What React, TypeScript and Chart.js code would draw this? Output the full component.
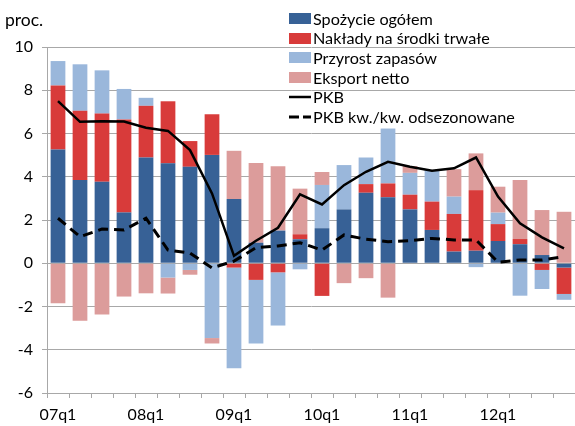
import React, { useEffect, useRef } from 'react';
import { Chart, registerables } from 'chart.js';

Chart.register(...registerables);

const categories = [
  '07q1', '07q2', '07q3', '07q4', '08q1', '08q2', '08q3', '08q4',
  '09q1', '09q2', '09q3', '09q4', '10q1', '10q2', '10q3', '10q4',
  '11q1', '11q2', '11q3', '11q4', '12q1', '12q2', '12q3', '12q4',
];
const xTickLabels = categories.map((c) => (c.endsWith('q1') ? c : ''));

const spozycie = [5.26, 3.85, 3.77, 2.35, 4.89, 4.62, 4.46, 5.01, 2.97, 0.95, 1.51, 1.11, 1.62, 2.49, 3.26, 3.05, 2.49, 1.54, 0.54, 0.58, 1.03, 0.88, 0.38, -0.2];
const naklady = [2.96, 3.2, 3.15, 4.3, 2.39, 2.87, 1.19, 1.88, -0.2, -0.77, -0.42, 0.23, -1.51, 0, 0.4, 0.64, 0.68, 1.31, 1.74, 2.8, 0.78, 0.24, -0.31, -1.22];
const zapasy = [1.13, 2.15, 2.0, 1.41, 0.37, -0.66, -0.31, -3.46, -4.65, -2.94, -2.46, -0.28, 2.0, 2.05, 1.23, 2.54, 1.01, 1.46, 0.8, -0.18, 0.53, -1.5, -0.88, -0.27];
const eksport = [-1.85, -2.66, -2.37, -1.54, -1.39, -0.74, -0.22, -0.25, 2.23, 3.69, 2.98, 2.11, 0.6, -0.92, -0.69, -1.59, 0.31, 0, 1.27, 1.7, 1.2, 2.73, 2.08, 2.38];
const pkb = [7.5, 6.54, 6.57, 6.55, 6.27, 6.12, 5.23, 3.23, 0.34, 1.04, 1.64, 3.19, 2.72, 3.61, 4.23, 4.69, 4.46, 4.28, 4.39, 4.89, 3.08, 1.85, 1.2, 0.69];
const pkbKwKw = [2.08, 1.23, 1.58, 1.54, 2.08, 0.61, 0.47, -0.22, 0.1, 0.72, 0.8, 0.95, 0.61, 1.31, 1.11, 1.0, 1.04, 1.15, 1.08, 1.08, 0.05, 0.15, 0.15, 0.31];

const yMin = -6;
const yMax = 10;
const yStep = 2;

const C_DARK = '#376196';
const C_RED = '#d83b3a';
const C_LIGHT = '#9ab7db';
const C_PINK = '#dc9c9b';
const GRID = '#a8a8a8';
const FONT = 'Lato, "Open Sans", sans-serif';

const legendItems = [
  { label: 'Spożycie ogółem', kind: 'box', color: C_DARK },
  { label: 'Nakłady na środki trwałe', kind: 'box', color: C_RED },
  { label: 'Przyrost zapasów', kind: 'box', color: C_LIGHT },
  { label: 'Eksport netto', kind: 'box', color: C_PINK },
  { label: 'PKB', kind: 'line', color: '#000' },
  { label: 'PKB kw./kw. odsezonowane', kind: 'dash', color: '#000' },
];

export default function App() {
  const ref = useRef<HTMLCanvasElement>(null);

  useEffect(() => {
    document.body.style.margin = '0';
    const canvas = ref.current;
    if (!canvas) return;
    const barCommon = {
      stack: 'bars',
      order: 1,
      barPercentage: 0.67,
      categoryPercentage: 1.0,
      borderWidth: 0,
    };
    const chart = new Chart(canvas, {
      type: 'bar',
      data: {
        labels: categories,
        datasets: [
          {
            type: 'line',
            label: 'PKB',
            data: pkb,
            borderColor: '#000',
            borderWidth: 2.5,
            pointRadius: 0,
            fill: false,
            tension: 0,
            stack: 'line1',
            order: 0,
          } as any,
          {
            type: 'line',
            label: 'PKB kw./kw. odsezonowane',
            data: pkbKwKw,
            borderColor: '#000',
            borderWidth: 3,
            borderDash: [10, 6],
            pointRadius: 0,
            fill: false,
            tension: 0,
            stack: 'line2',
            order: 0,
          } as any,
          { ...barCommon, label: 'Spożycie ogółem', data: spozycie, backgroundColor: C_DARK } as any,
          { ...barCommon, label: 'Nakłady na środki trwałe', data: naklady, backgroundColor: C_RED } as any,
          { ...barCommon, label: 'Przyrost zapasów', data: zapasy, backgroundColor: C_LIGHT } as any,
          { ...barCommon, label: 'Eksport netto', data: eksport, backgroundColor: C_PINK } as any,
        ],
      },
      options: {
        responsive: false,
        animation: false,
        layout: { padding: { top: 47, right: 0, left: 0, bottom: 0 } },
        plugins: {
          legend: { display: false },
          tooltip: { enabled: false },
        },
        scales: {
          x: {
            stacked: true,
            offset: true,
            grid: {
              offset: true,
              drawOnChartArea: false,
              drawTicks: true,
              tickLength: 5,
              color: GRID,
            },
            border: { display: true, color: GRID, width: 1 },
            ticks: {
              autoSkip: false,
              maxRotation: 0,
              minRotation: 0,
              padding: 7,
              color: '#000',
              font: { family: FONT, size: 16 },
              callback: (_v: any, i: number) => xTickLabels[i],
            },
            afterFit: (s: any) => {
              s.height = 33;
            },
          },
          y: {
            stacked: true,
            min: yMin,
            max: yMax,
            ticks: {
              stepSize: yStep,
              padding: 9,
              color: '#000',
              font: { family: FONT, size: 16 },
            },
            grid: {
              color: GRID,
              tickLength: 5,
              drawTicks: true,
            },
            border: { display: true, color: GRID, width: 1 },
            afterFit: (s: any) => {
              s.width = 47;
            },
          },
        },
      },
    });
    return () => chart.destroy();
  }, []);

  return (
    <div style={{ position: 'relative', width: 575, height: 426, fontFamily: FONT, color: '#000' }}>
      <canvas ref={ref} width={575} height={426} style={{ display: 'block' }} />
      <div style={{ position: 'absolute', left: 5, top: 10, fontSize: 17.5, lineHeight: '20px' }}>proc.</div>
      {legendItems.map((it, i) => {
        const cy = 18.7 + 19.6 * i;
        return (
          <div key={it.label} style={{ position: 'absolute', left: 289, top: cy - 10, height: 20, display: 'flex', alignItems: 'center' }}>
            {it.kind === 'box' ? (
              <div style={{ width: 22, height: 11, background: it.color }} />
            ) : (
              <svg width={22} height={6} style={{ display: 'block' }}>
                <line x1={0} y1={3} x2={22} y2={3} stroke="#000" strokeWidth={it.kind === 'dash' ? 3 : 2.5} strokeDasharray={it.kind === 'dash' ? '10 4' : undefined} />
              </svg>
            )}
            <span style={{ marginLeft: 2, fontSize: 16.2, lineHeight: '20px', whiteSpace: 'nowrap' }}>{it.label}</span>
          </div>
        );
      })}
    </div>
  );
}
